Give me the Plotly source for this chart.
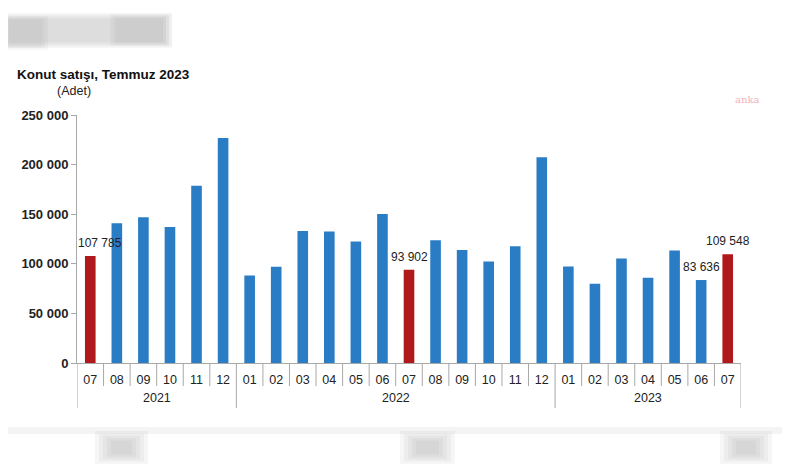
import plotly.graph_objects as go

years = ["2021"] * 6 + ["2022"] * 12 + ["2023"] * 7
months = ["07", "08", "09", "10", "11", "12",
          "01", "02", "03", "04", "05", "06", "07", "08", "09", "10", "11", "12",
          "01", "02", "03", "04", "05", "06", "07"]
sales = [107785, 141000, 147000, 137000, 178800, 226800,
         88200, 97000, 133000, 132500, 122500, 150300, 93902, 123800, 113800, 102300, 117800, 207400,
         97300, 79900, 105300, 85900, 113400, 83636, 109548]
labeled = {0: "107 785", 12: "93 902", 23: "83 636", 24: "109 548"}
year_labels = ["2021", "2022", "2023"]

BLUE = "#2a7dc4"
RED = "#b0191b"
AXIS = "#a8a8a8"
TXT = "#222222"

cats = [f"{y}-{m}" for y, m in zip(years, months)]
colors = [RED if m == "07" else BLUE for m in months]

fig = go.Figure(go.Bar(
    x=cats, y=sales,
    marker=dict(color=colors, line=dict(width=0)),
    hovertemplate="%{x}: %{y}<extra></extra>",
))

# the page body has an 8px margin: shift the whole figure up/left by 8px
OFF = 8
W, H = 790 - OFF, 472 - OFF
L, R, T, B = 77 - OFF, 49, 115 - OFF, 109
pw, ph = W - L - R, H - T - B


def px(x):
    return (x - OFF - L) / pw


def py(y):
    return (H - B - (y - OFF)) / ph


shapes = []
# category separators below the axis; year dividers are longer
n = len(cats)
for i in range(n + 1):
    is_year_edge = i == 0 or i == n or years[i] != years[i - 1]
    shapes.append(dict(type="line", xref="x", yref="paper", x0=i - 0.5, x1=i - 0.5,
                       y0=0, y1=py(408 if is_year_edge else 386),
                       line=dict(color=AXIS, width=1)))


def blur(x0, x1, y0, y1, layers=5, step=3, op=0.05):
    for k in range(layers):
        if x1 - x0 - 2 * k * step <= 0 or y1 - y0 - 2 * k * step * 0.6 <= 0:
            break
        shapes.append(dict(type="rect", xref="paper", yref="paper",
                           x0=px(x0 + k * step), x1=px(x1 - k * step),
                           y0=py(y1 - k * step * 0.6), y1=py(y0 + k * step * 0.6),
                           fillcolor=f"rgba(110,110,110,{op})", line=dict(width=0), layer="below"))


# blurred artefacts of the source image
blur(0, 172, 13, 48, layers=4, step=3, op=0.06)
blur(0, 48, 16, 50, layers=3, step=3, op=0.05)
blur(110, 172, 14, 46, layers=3, step=3, op=0.05)
shapes.append(dict(type="rect", xref="paper", yref="paper", x0=px(0), x1=px(790), y0=py(434), y1=py(427),
                   fillcolor="rgba(170,170,170,0.13)", line=dict(width=0), layer="below"))
for a, b in [(95, 148), (400, 455), (720, 772)]:
    blur(a, b, 431, 464, layers=5, step=4, op=0.06)

annotations = [
    dict(text="<b>Konut satışı, Temmuz 2023</b>", xref="paper", yref="paper",
         x=px(15), y=py(74), xanchor="left", yanchor="middle", showarrow=False,
         font=dict(size=13.5, color="#111111")),
    dict(text="(Adet)", xref="paper", yref="paper",
         x=px(55), y=py(91), xanchor="left", yanchor="middle", showarrow=False,
         font=dict(size=12.5, color=TXT)),
    dict(text="anka", xref="paper", yref="paper",
         x=px(733), y=py(100), xanchor="left", yanchor="middle", showarrow=False,
         font=dict(size=10, color="#f2b3bd", family="DejaVu Serif")),
]
# year group labels
for yl in year_labels:
    idx = [i for i, y in enumerate(years) if y == yl]
    annotations.append(dict(text=yl, xref="x", yref="paper", x=sum(idx) / len(idx), y=py(398),
                            xanchor="center", yanchor="middle", showarrow=False,
                            font=dict(size=12.5, color=TXT)))
# value labels
for i, t in labeled.items():
    annotations.append(dict(text=t, xref="x", yref="y", x=i, y=sales[i],
                            xanchor="center", yanchor="bottom", showarrow=False,
                            xshift=10 if i == 0 else 0, yshift=4,
                            font=dict(size=12, color=TXT)))

fig.update_layout(
    width=W, height=H,
    margin=dict(l=L, r=R, t=T, b=B),
    paper_bgcolor="white", plot_bgcolor="white",
    separators=", ",
    showlegend=False,
    bargap=0.6,
    font=dict(family="Liberation Sans, Arial", color=TXT),
    shapes=shapes,
    annotations=annotations,
    xaxis=dict(
        type="category",
        range=[-0.5, n - 0.5],
        tickvals=cats, ticktext=months,
        showline=True, linecolor=AXIS, linewidth=1,
        ticks="", ticklabelstandoff=5,
        tickfont=dict(size=12.5, color=TXT),
        showgrid=False,
    ),
    yaxis=dict(
        range=[0, 250000], dtick=50000, tickformat=",d",
        showline=True, linecolor=AXIS, linewidth=1,
        ticks="outside", ticklen=5, tickcolor=AXIS,
        showgrid=False, zeroline=False,
        tickfont=dict(size=13, color=TXT, weight="bold"),
    ),
)

fig.write_html("out.html")
